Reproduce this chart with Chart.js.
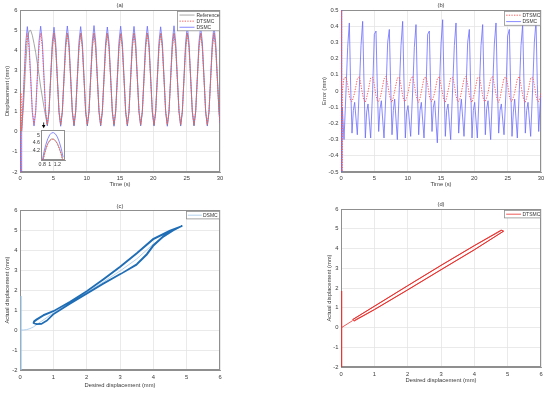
<!DOCTYPE html>
<html><head><meta charset="utf-8">
<script src="https://cdn.jsdelivr.net/npm/chart.js@4/dist/chart.umd.min.js"></script>
<style>
html,body{margin:0;padding:0;background:#fff;width:550px;height:393px;overflow:hidden}
canvas{position:absolute;display:block}
</style></head><body>
<canvas id="ca" width="275" height="196" style="left:0;top:0"></canvas>
<canvas id="cb" width="275" height="196" style="left:275px;top:0"></canvas>
<canvas id="cc" width="275" height="197" style="left:0;top:196px"></canvas>
<canvas id="cd" width="275" height="197" style="left:275px;top:196px"></canvas>
<canvas id="ci" width="46" height="43" style="left:25px;top:126px"></canvas>
<script>
// ---------- DATA ----------
const seriesNames = ['Reference', 'DTSMC', 'DSMC'];
const timeA = [0,0.1,0.15,0.25,0.4,0.6,0.85,1.1,1.35,1.6,1.85,
2.1,2.35,2.6,2.85,3.1,3.35,3.6,3.85,
4.1,4.35,4.6,4.85,5.1,5.35,5.6,5.85,
6.1,6.35,6.6,6.85,7.1,7.35,7.6,7.85,
8.1,8.35,8.6,8.85,9.1,9.35,9.6,9.85,
10.1,10.35,10.6,10.85,11.1,11.35,11.6,11.85,
12.1,12.35,12.6,12.85,13.1,13.35,13.6,13.85,
14.1,14.35,14.6,14.85,15.1,15.35,15.6,15.85,
16.1,16.35,16.6,16.85,17.1,17.35,17.6,17.85,
18.1,18.35,18.6,18.85,19.1,19.35,19.6,19.85,
20.1,20.35,20.6,20.85,21.1,21.35,21.6,21.85,
22.1,22.35,22.6,22.85,23.1,23.35,23.6,23.85,
24.1,24.35,24.6,24.85,25.1,25.35,25.6,25.85,
26.1,26.35,26.6,26.85,27.1,27.35,27.6,27.85,
28.1,28.35,28.6,28.85,29.1,29.35,29.6,29.85,
30];
const dispRef = [0,0,0.02,0.12,0.7,1.7,3.3,4.5,4.95,5.0,4.75,
4.35,3.9,3.35,2.8,2.2,1.7,1.2,0.75,
0.30,1.00,2.60,4.16,4.86,4.16,2.60,1.00,
0.31,1.01,2.61,4.15,4.85,4.15,2.59,0.99,
0.30,1.00,2.60,4.16,4.86,4.16,2.60,1.00,
0.29,0.99,2.59,4.15,4.85,4.17,2.61,1.01,
0.30,1.00,2.60,4.16,4.86,4.16,2.60,1.00,
0.31,1.01,2.60,4.15,4.84,4.15,2.60,1.00,
0.30,1.00,2.60,4.16,4.86,4.16,2.60,1.00,
0.30,0.99,2.61,4.17,4.86,4.15,2.59,0.99,
0.30,1.00,2.60,4.16,4.85,4.16,2.60,1.00,
0.31,1.00,2.60,4.15,4.86,4.16,2.61,1.01,
0.30,1.00,2.60,4.16,4.86,4.16,2.60,1.00,
0.29,1.00,2.59,4.16,4.85,4.15,2.60,1.00,
0.30,1.00,2.60,4.16,4.86,4.16,2.60,1.00,
0.45];
const dispDTSMC = [-2,-2,1.9,0.05,1.0,2.4,4.05,4.83,4.15,2.6,1.0,
0.35,1.00,2.60,4.15,4.85,4.15,2.60,1.00,
0.34,1.01,2.61,4.16,4.86,4.14,2.59,0.99,
0.36,1.00,2.60,4.15,4.84,4.15,2.60,1.00,
0.35,0.99,2.59,4.14,4.85,4.16,2.61,1.01,
0.35,1.00,2.60,4.16,4.87,4.15,2.60,1.00,
0.34,1.01,2.61,4.15,4.85,4.14,2.59,0.99,
0.36,1.00,2.60,4.14,4.83,4.15,2.60,1.00,
0.35,0.99,2.60,4.16,4.86,4.16,2.61,1.00,
0.35,1.00,2.59,4.15,4.85,4.15,2.60,1.01,
0.34,1.00,2.60,4.16,4.86,4.15,2.60,1.00,
0.36,1.01,2.61,4.15,4.84,4.14,2.59,0.99,
0.35,1.00,2.60,4.15,4.85,4.16,2.60,1.00,
0.35,0.99,2.60,4.16,4.86,4.15,2.61,1.00,
0.34,1.00,2.60,4.15,4.85,4.15,2.60,1.00,
0.45];
const dispDSMC = [0,0,-2,0.0,0.95,2.5,4.35,5.18,4.4,2.7,0.95,
0.27,0.95,2.70,4.45,5.20,4.42,2.68,0.95,
0.28,0.96,2.71,4.44,5.15,4.40,2.66,0.94,
0.26,0.94,2.69,4.46,5.21,4.43,2.69,0.96,
0.27,0.95,2.70,4.45,5.18,4.41,2.67,0.95,
0.28,0.96,2.70,4.47,5.23,4.44,2.70,0.96,
0.27,0.95,2.69,4.44,5.16,4.40,2.67,0.95,
0.26,0.95,2.70,4.45,5.20,4.42,2.68,0.95,
0.27,0.94,2.70,4.46,5.19,4.42,2.68,0.94,
0.28,0.96,2.71,4.45,5.20,4.41,2.67,0.95,
0.27,0.95,2.70,4.44,5.17,4.42,2.68,0.95,
0.26,0.95,2.70,4.47,5.22,4.43,2.69,0.96,
0.27,0.95,2.69,4.45,5.19,4.41,2.67,0.95,
0.28,0.96,2.70,4.44,5.17,4.42,2.68,0.94,
0.27,0.95,2.70,4.45,5.20,4.42,2.68,0.95,
0.40];
const insetT = [0.8,0.85,0.9,0.95,1.0,1.05,1.1,1.15,1.2,1.25,1.3,1.35];
const insetDSMC = [3.6,4.15,4.52,4.82,5.02,5.12,5.13,5.06,4.9,4.65,4.3,3.85];
const insetDTSMC = [3.45,3.92,4.28,4.55,4.71,4.79,4.78,4.7,4.55,4.3,4.0,3.6];
const insetRef = [3.47,3.94,4.3,4.57,4.73,4.8,4.79,4.71,4.56,4.32,4.02,3.62];

const timeB = [0,0.08,0.11,
0.2,0.45,0.75,1.0,1.25,1.45,1.65,1.85,
2.05,2.45,2.75,3.0,3.25,3.45,3.65,3.85,
4.05,4.45,4.75,5.0,5.25,5.45,5.65,5.85,
6.05,6.45,6.75,7.0,7.25,7.45,7.65,7.85,
8.05,8.45,8.75,9.0,9.25,9.45,9.65,9.85,
10.05,10.45,10.75,11.0,11.25,11.45,11.65,11.85,
12.05,12.45,12.75,13.0,13.25,13.45,13.65,13.85,
14.05,14.45,14.75,15.0,15.25,15.45,15.65,15.85,
16.05,16.45,16.75,17.0,17.25,17.45,17.65,17.85,
18.05,18.45,18.75,19.0,19.25,19.45,19.65,19.85,
20.05,20.45,20.75,21.0,21.25,21.45,21.65,21.85,
22.05,22.45,22.75,23.0,23.25,23.45,23.65,23.85,
24.05,24.45,24.75,25.0,25.25,25.45,25.65,25.85,
26.05,26.45,26.75,27.0,27.25,27.45,27.65,27.85,
28.05,28.45,28.75,29.0,29.25,29.45,29.65,29.85,
30];
const errDTSMC = [0,3,-3,
0.00,0.08,0.085,0.04,-0.03,-0.06,-0.065,-0.04,
-0.01,0.075,0.09,0.035,-0.025,-0.055,-0.07,-0.04,
-0.005,0.08,0.085,0.04,-0.03,-0.06,-0.065,-0.045,
-0.01,0.075,0.09,0.04,-0.02,-0.055,-0.07,-0.04,
0.00,0.08,0.085,0.035,-0.03,-0.06,-0.065,-0.04,
-0.01,0.075,0.09,0.04,-0.025,-0.055,-0.07,-0.045,
-0.005,0.08,0.085,0.04,-0.03,-0.06,-0.065,-0.04,
-0.01,0.075,0.09,0.035,-0.02,-0.055,-0.07,-0.04,
0.00,0.08,0.085,0.04,-0.03,-0.06,-0.065,-0.045,
-0.01,0.075,0.09,0.04,-0.025,-0.055,-0.07,-0.04,
-0.005,0.08,0.085,0.035,-0.03,-0.06,-0.065,-0.04,
-0.01,0.075,0.09,0.04,-0.02,-0.055,-0.07,-0.045,
0.00,0.08,0.085,0.04,-0.03,-0.06,-0.065,-0.04,
-0.01,0.075,0.09,0.035,-0.025,-0.055,-0.07,-0.04,
-0.005,0.08,0.085,0.04,-0.03,-0.06,-0.065,-0.045,
-0.01];
const errDSMC = [0,0.6,-0.6,
-0.1,-0.30,0.00,0.27,0.42,0.03,-0.26,-0.12,
-0.07,-0.27,0.02,0.28,0.43,0.05,-0.29,-0.13,
-0.08,-0.29,0.01,0.35,0.37,0.02,-0.25,-0.11,
-0.06,-0.29,0.00,0.30,0.38,0.04,-0.27,-0.12,
-0.05,-0.30,0.02,0.28,0.43,0.05,-0.29,-0.13,
-0.09,-0.28,0.00,0.27,0.41,0.03,-0.27,-0.12,
-0.07,-0.29,0.01,0.35,0.37,0.02,-0.25,-0.10,
-0.06,-0.32,0.01,0.29,0.44,0.05,-0.28,-0.12,
-0.08,-0.30,0.02,0.28,0.42,0.04,-0.26,-0.13,
-0.05,-0.28,0.00,0.30,0.38,0.03,-0.29,-0.12,
-0.07,-0.29,0.01,0.28,0.41,0.04,-0.27,-0.11,
-0.06,-0.30,0.02,0.29,0.42,0.05,-0.26,-0.12,
-0.08,-0.27,0.00,0.34,0.38,0.03,-0.28,-0.13,
-0.05,-0.29,0.01,0.28,0.41,0.04,-0.26,-0.12,
-0.07,-0.28,0.02,0.30,0.43,0.04,-0.25,-0.10,
-0.02];

// (c) DSMC: desired vs actual
const desC0 = [0.03,0.03,0.03,0.03,0.1,0.2,0.3,0.4,0.5,1.0,1.5,2.0,2.5,3.0,3.5,4.0,4.4,4.8];
const actC0 = [0,1.7,-2,0,0.0,0.02,0.07,0.15,0.27,0.85,1.38,1.88,2.4,2.95,3.55,4.3,4.75,5.15];
const desC = [3.0,3.5,3.8,4.0,4.3,4.6,4.86,4.5,4.0,3.5,3.0,2.5,2.0,1.5,1.0,0.7,0.5,0.42,0.4,0.5,0.65,0.8,1.0,1.5,2.0,2.5,3.0,
3.5,3.8,4.0,4.3,4.6,4.84,4.5,4.0,3.5,3.0,2.5,2.0,1.5,1.0,0.7,0.5,0.43,0.42,0.52,0.66,0.82,1.0,1.5,2.0,2.5,3.02];
const actC = [2.78,3.3,3.8,4.25,4.7,5.0,5.2,4.98,4.57,3.85,3.17,2.55,1.95,1.42,0.95,0.75,0.55,0.45,0.35,0.28,0.3,0.45,0.78,1.3,1.8,2.3,2.78,
3.26,3.75,4.2,4.66,4.98,5.18,4.95,4.53,3.82,3.14,2.52,1.93,1.4,0.93,0.72,0.5,0.42,0.33,0.3,0.33,0.5,0.8,1.33,1.83,2.33,2.82];
// (d) DTSMC: desired vs actual
const desD0 = [0.02,0.02,0.02,0.02,0.35];
const actD0 = [0,1.85,-2,0,0.35];
const desD = [0.35,1.0,2.0,3.0,4.0,4.8,4.88,4.0,3.0,2.0,1.0,0.4,0.35,1.0,2.0,3.0,4.0,4.82,4.87,4.0,3.0,2.0,1.0,0.38];
const actD = [0.4,1.08,2.12,3.15,4.15,4.93,4.88,3.93,2.92,1.9,0.9,0.33,0.4,1.07,2.11,3.14,4.14,4.92,4.87,3.94,2.93,1.91,0.91,0.34];

const ticksTime = [0,5,10,15,20,25,30];
const ticksDisp = [-2,-1,0,1,2,3,4,5,6];
const ticksErr = [-0.5,-0.4,-0.3,-0.2,-0.1,0,0.1,0.2,0.3,0.4,0.5];
const ticksErrLbl = ['-0.5','-0.4','-0.3','-0.2','-0.1','0','0.1','0.2','0.3','0.4','0.5'];
const ticksDes = [0,1,2,3,4,5,6];
const insetXTicks = [0.8,1,1.2];
const insetYTicks = [4.2,4.6,5];

// ---------- STYLE ----------
const FAM = 'Liberation Sans';
const GRID = '#e4e4e4', AXIS = '#8f8f8f', TXT = '#3a3a3a';
const C_REF = '#808080', C_DT = '#ff5a5a', C_DS = '#6b6bff', C_DSc = '#1f6db5', C_DSc0 = '#9ec5e8', C_DTd = '#e8302c';

const pts = (xs, ys) => xs.map((x, i) => ({x, y: ys[i]}));

const deco = {
  id: 'deco',
  beforeDatasetsDraw(chart, args, o) {
    const a = chart.chartArea, ctx = chart.ctx;
    ctx.save();
    if (o.fillArea) { ctx.fillStyle = '#fff'; ctx.fillRect(a.left, a.top, a.right - a.left, a.bottom - a.top); }
    ctx.strokeStyle = AXIS; ctx.lineWidth = 1;
    ctx.strokeRect(Math.round(a.left) + 0.5, Math.round(a.top) + 0.5, Math.round(a.right - a.left) - 1, Math.round(a.bottom - a.top) - 1);
    ctx.restore();
  },
  afterDraw(chart, args, o) {
    const ctx = chart.ctx, a = chart.chartArea;
    ctx.save();
    ctx.fillStyle = TXT; ctx.textAlign = 'center'; ctx.textBaseline = 'middle';
    ctx.font = (o.fs || 5.8) + 'px "' + FAM + '"';
    if (o.title) ctx.fillText(o.title, (a.left + a.right) / 2, o.titleY);
    if (o.xTitle) ctx.fillText(o.xTitle, (a.left + a.right) / 2, o.xTitleY);
    if (o.yTitle) {
      ctx.save(); ctx.translate(o.yTitleX, (a.top + a.bottom) / 2); ctx.rotate(-Math.PI / 2);
      ctx.fillText(o.yTitle, 0, 0); ctx.restore();
    }
    if (o.legend) {
      const L = o.legend, n = L.items.length;
      const x0 = Math.round(a.right - L.w - 1) + 0.5, y0 = Math.round(a.top + 1) + 0.5, h = n * L.row + 1;
      ctx.fillStyle = '#fff'; ctx.fillRect(x0, y0, L.w, h);
      ctx.strokeStyle = AXIS; ctx.lineWidth = 0.8; ctx.strokeRect(x0, y0, L.w, h);
      ctx.font = '5px "' + FAM + '"'; ctx.textAlign = 'left';
      L.items.forEach((it, i) => {
        const yy = y0 + 0.5 + L.row * (i + 0.5);
        ctx.strokeStyle = it.color; ctx.lineWidth = it.width || 0.8; ctx.setLineDash(it.dash || []);
        ctx.beginPath(); ctx.moveTo(x0 + L.l1, yy); ctx.lineTo(x0 + L.l2, yy); ctx.stroke(); ctx.setLineDash([]);
        ctx.fillStyle = '#333'; ctx.fillText(it.label, x0 + L.tx, yy + 0.3);
      });
    }
    if (o.arrow) {
      const x = chart.scales.x.getPixelForValue(o.arrow.x), y = chart.scales.y.getPixelForValue(o.arrow.y);
      ctx.fillStyle = '#000'; ctx.strokeStyle = '#000'; ctx.lineWidth = 0.8;
      ctx.beginPath(); ctx.moveTo(x, y - 5); ctx.lineTo(x, y - 2); ctx.stroke();
      ctx.beginPath(); ctx.moveTo(x - 1.8, y - 2.5); ctx.lineTo(x + 1.8, y - 2.5); ctx.lineTo(x, y + 0.8); ctx.closePath(); ctx.fill();
    }
    ctx.restore();
  }
};

function makeChart(id, c) {
  const tf = {family: FAM, size: c.tfs || 5.8};
  const fmtX = (v, i) => c.xLbl ? c.xLbl[i] : String(c.xticks[i]);
  const fmtY = (v, i) => c.yLbl ? c.yLbl[i] : String(c.yticks[i]);
  return new Chart(document.getElementById(id), {
    type: 'scatter',
    data: {datasets: c.datasets.map(d => Object.assign({showLine: true, pointRadius: 0, pointHoverRadius: 0, fill: false, tension: 0, borderJoinStyle: 'round'}, d))},
    options: {
      responsive: false, animation: false, devicePixelRatio: 1, events: [],
      layout: {padding: {top: c.padTop, right: c.padRight, left: 0, bottom: 0}},
      plugins: {legend: {display: false}, tooltip: {enabled: false}, deco: c.deco},
      scales: {
        x: {type: 'linear', min: c.xmin, max: c.xmax,
          afterFit: s => { s.height = c.xh; },
          afterBuildTicks: s => { s.ticks = c.xticks.map(v => ({value: v})); },
          grid: {color: c.noGrid ? 'rgba(0,0,0,0)' : GRID, drawTicks: false, lineWidth: 0.8},
          border: {color: AXIS, width: 1},
          ticks: {font: tf, color: TXT, padding: c.xpad, maxRotation: 0, autoSkip: false, callback: fmtX}},
        y: {type: 'linear', min: c.ymin, max: c.ymax,
          afterFit: s => { s.width = c.yw; },
          afterBuildTicks: s => { s.ticks = c.yticks.map(v => ({value: v})); },
          grid: {color: c.noGrid ? 'rgba(0,0,0,0)' : GRID, drawTicks: false, lineWidth: 0.8},
          border: {color: AXIS, width: 1},
          ticks: {font: tf, color: TXT, padding: c.ypad, autoSkip: false, callback: fmtY}}
      }
    },
    plugins: [deco]
  });
}

// (a)
makeChart('ca', {
  xmin: 0, xmax: 30, ymin: -2, ymax: 6, xticks: ticksTime, yticks: ticksDisp,
  padTop: 10, padRight: 55, yw: 20, xh: 24, xpad: 3, ypad: 2.5,
  datasets: [
    {data: pts(timeA, dispDTSMC), borderColor: C_DT, borderWidth: 1, borderDash: [1.3, 1.3]},
    {data: pts(timeA, dispRef), borderColor: C_REF, borderWidth: 0.7},
    {data: pts(timeA, dispDSMC), borderColor: C_DS, borderWidth: 0.8}
  ],
  deco: {title: '(a)', titleY: 5.3, xTitle: 'Time (s)', xTitleY: 184, yTitle: 'Displacement (mm)', yTitleX: 7.3,
    arrow: {x: 3.55, y: 0.2},
    legend: {w: 42, row: 6.1, l1: 2, l2: 17, tx: 19, items: [
      {label: seriesNames[0], color: C_REF, width: 0.7},
      {label: seriesNames[1], color: C_DT, width: 1, dash: [1.3, 1.3]},
      {label: seriesNames[2], color: C_DS, width: 0.8}]}}
});
// inset
makeChart('ci', {
  xmin: 0.77, xmax: 1.4, ymin: 3.7, ymax: 5.26, xticks: insetXTicks, yticks: insetYTicks, noGrid: true, tfs: 5.3,
  padTop: 4, padRight: 6, yw: 16, xh: 9, xpad: 1.5, ypad: 1,
  datasets: [
    {data: pts(insetT, insetDTSMC), borderColor: C_DT, borderWidth: 1, borderDash: [1.3, 1.3]},
    {data: pts(insetT, insetRef), borderColor: C_REF, borderWidth: 0.7},
    {data: pts(insetT, insetDSMC), borderColor: C_DS, borderWidth: 0.8}
  ],
  deco: {fillArea: true}
});
// (b)
makeChart('cb', {
  xmin: 0, xmax: 30, ymin: -0.5, ymax: 0.5, xticks: ticksTime, yticks: ticksErr, yLbl: ticksErrLbl,
  padTop: 10, padRight: 9, yw: 66, xh: 24, xpad: 3, ypad: 2.5,
  datasets: [
    {data: pts(timeB, errDTSMC), borderColor: C_DT, borderWidth: 1, borderDash: [1.3, 1.3]},
    {data: pts(timeB, errDSMC), borderColor: C_DS, borderWidth: 0.8}
  ],
  deco: {title: '(b)', titleY: 5.3, xTitle: 'Time (s)', xTitleY: 184, yTitle: 'Error (mm)', yTitleX: 49,
    legend: {w: 36, row: 6.4, l1: 1.7, l2: 16.5, tx: 18, items: [
      {label: seriesNames[1], color: C_DT, width: 1, dash: [1.3, 1.3]},
      {label: seriesNames[2], color: C_DS, width: 0.8}]}}
});
// (c)
makeChart('cc', {
  xmin: 0, xmax: 6, ymin: -2, ymax: 6, xticks: ticksDes, yticks: ticksDisp,
  padTop: 14, padRight: 55, yw: 20, xh: 23, xpad: 4, ypad: 2.5,
  datasets: [
    {data: pts(desC, actC), borderColor: C_DSc, borderWidth: 1.4},
    {data: pts(desC0, actC0), borderColor: C_DSc0, borderWidth: 0.8}
  ],
  deco: {title: '(c)', titleY: 10, xTitle: 'Desired displacement (mm)', xTitleY: 189, yTitle: 'Actual displacement (mm)', yTitleX: 7,
    legend: {w: 33, row: 6.4, l1: 1.3, l2: 15.3, tx: 16.5, items: [
      {label: seriesNames[2], color: C_DSc0, width: 0.8}]}}
});
// (d)
makeChart('cd', {
  xmin: 0, xmax: 6, ymin: -2, ymax: 6, xticks: ticksDes, yticks: ticksDisp,
  padTop: 13, padRight: 9, yw: 66, xh: 26, xpad: 3.5, ypad: 2.5,
  datasets: [
    {data: pts(desD, actD), borderColor: C_DTd, borderWidth: 0.9},
    {data: pts(desD0, actD0), borderColor: C_DTd, borderWidth: 0.8}
  ],
  deco: {title: '(d)', titleY: 8.7, xTitle: 'Desired displacement (mm)', xTitleY: 184, yTitle: 'Actual displacement (mm)', yTitleX: 54,
    legend: {w: 36, row: 6.4, l1: 1.7, l2: 16.5, tx: 18, items: [
      {label: seriesNames[1], color: C_DTd, width: 0.8}]}}
});
</script>
</body></html>
